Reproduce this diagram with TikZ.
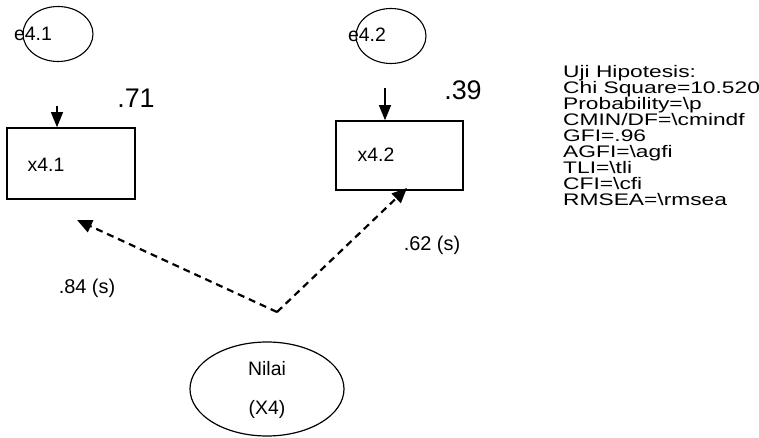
\documentclass[tikz,border=0pt]{standalone}
\usepackage{fontspec}
\setmainfont{Liberation Sans}
\newfontfamily\fitfont[FakeStretch=1.36]{Liberation Sans}
\usetikzlibrary{arrows.meta,shapes.geometric}
\begin{document}
\begin{tikzpicture}[x=1bp,y=-1bp,
  errell/.style={draw,ellipse,line width=1.1bp,inner sep=0,minimum width=70bp,minimum height=55bp},
  latell/.style={draw,ellipse,line width=1.2bp,inner sep=0,minimum width=154bp,minimum height=94bp},
  obsbox/.style={draw,rectangle,line width=1.6bp,inner sep=0},
  smalltxt/.style={inner sep=0,font=\fontsize{19.5}{22}\selectfont},
  bigtxt/.style={inner sep=0,font=\fontsize{27}{30}\selectfont},
  midtxt/.style={inner sep=0,font=\fontsize{20}{23}\selectfont},
  fittxt/.style={inner sep=0,font=\fitfont\fontsize{16.8}{16.1}\selectfont},
  solidarrow/.style={line width=1.2bp,-{Triangle[length=15bp,width=12bp]}},
  dasharrow/.style={line width=2.2bp,dash pattern=on 7bp off 5bp,-{Triangle[length=15bp,width=13bp]}},
]
\useasboundingbox (0,0) rectangle (759,438);

% error terms
\node[errell] (e41) at (58,34) {};
\node[smalltxt] (e41t) at (33,34) {e4.1};
\node[errell] (e42) at (391,36) {};
\node[smalltxt] (e42t) at (367,35) {e4.2};

% observed boxes
\node[obsbox,minimum width=128bp,minimum height=71bp] (x41) at (71,163.5) {};
\node[smalltxt] (x41t) at (46,165) {x4.1};
\node[obsbox,minimum width=127bp,minimum height=69bp] (x42) at (399.5,155.5) {};
\node[smalltxt] (x42t) at (376,155) {x4.2};

% r-square values
\node[bigtxt] (r41) at (136,98) {.71};
\node[bigtxt] (r42) at (463,90) {.39};

% error arrows
\coordinate (a41) at (57,106);
\draw[solidarrow] (a41) -- (a41 |- x41.north);
\coordinate (a42) at (385,88);
\draw[solidarrow] (a42) -- (a42 |- x42.north);

% latent
\node[latell] (nilai) at (267,389) {};
\node[smalltxt] (nilait) at (267,369) {Nilai};
\node[smalltxt] (x4t) at (267,409) {(X4)};

% loadings
\coordinate (v) at (277,312);
\coordinate (t41) at (77,220);
\coordinate (t42) at (407,188);
\draw[dasharrow] (v) -- (t41);
\draw[dasharrow] (v) -- (t42);
\node[midtxt] (l41) at (87,288) {.84 (s)};
\node[midtxt] (l42) at (432,245) {.62 (s)};

% fit statistics
\node[fittxt,anchor=north west,align=left] (fit) at (563,65)
  {Uji Hipotesis:\\Chi Square=10.520\\Probability=\textbackslash p\\CMIN/DF=\textbackslash cmindf\\GFI=.96\\AGFI=\textbackslash agfi\\TLI=\textbackslash tli\\CFI=\textbackslash cfi\\RMSEA=\textbackslash rmsea};
\end{tikzpicture}
\end{document}
